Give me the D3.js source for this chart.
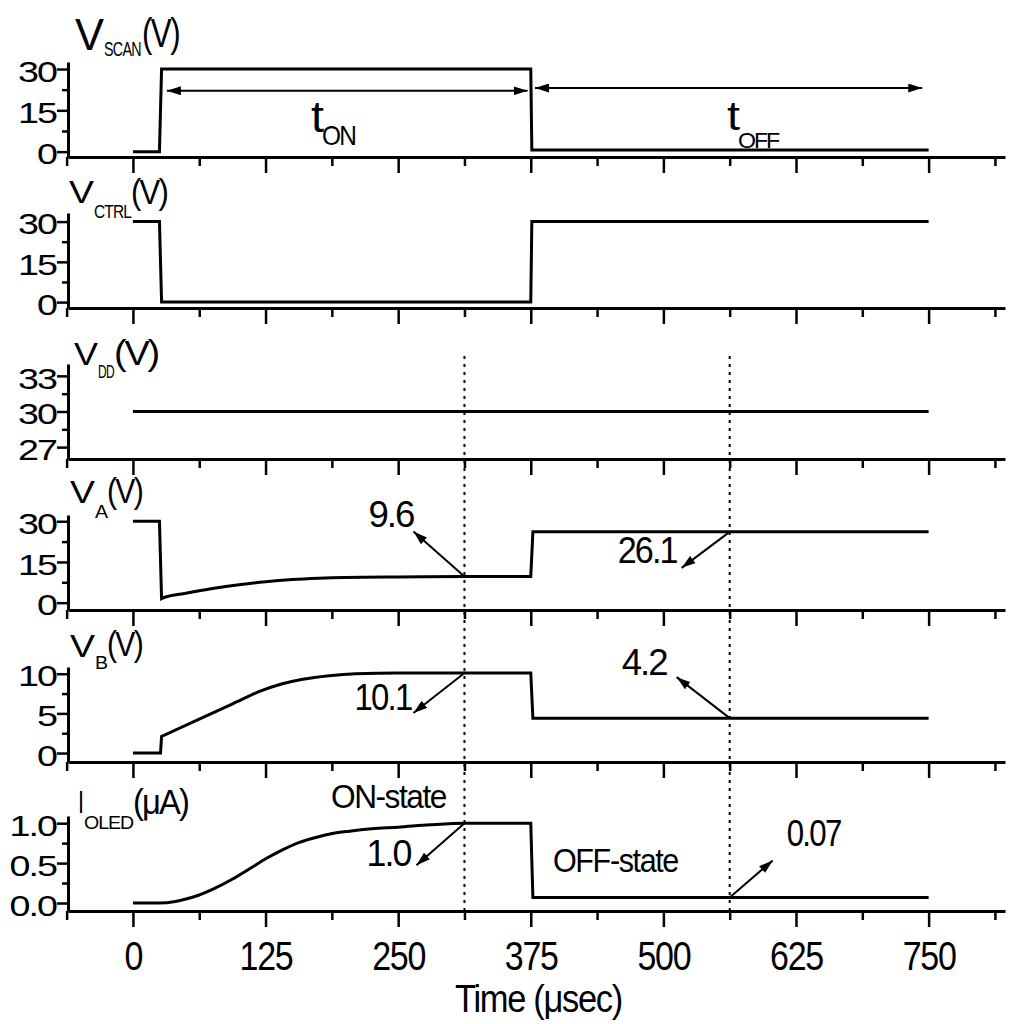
<!DOCTYPE html>
<html><head><meta charset="utf-8">
<script src="https://cdn.jsdelivr.net/npm/d3@7"></script>
<style>
body{margin:0;background:#fff}
svg text{font-family:"Liberation Sans",Arial,Helvetica,sans-serif;fill:#000}
</style>
</head><body>
<svg id="chart" width="1009" height="1024"></svg>
<script>
// ---------------- DATA ----------------
const timeTicks = [0, 125, 250, 375, 500, 625, 750];
const timeMinor = [-62.5, 62.5, 187.5, 312.5, 437.5, 562.5, 687.5, 812.5];
const timeLabels = ["0", "125", "250", "375", "500", "625", "750"];

const scanT = [0, 25, 27, 375, 376, 750];
const scanV = [0, 0, 30, 30, 0.6, 0.6];

const ctrlT = [0, 25, 27, 375, 376, 750];
const ctrlV = [30, 30, 0, 0, 30, 30];

const ddT = [0, 750];
const ddV = [30, 30];

const vaT = [0, 25, 27, 30, 50, 75, 100, 125, 150, 175, 200, 250, 312.5, 375, 377, 750];
const vaV = [30, 30, 1.5, 2.0, 3.5, 5.2, 6.6, 7.7, 8.5, 9.0, 9.3, 9.5, 9.6, 9.6, 26.1, 26.1];

const vbT = [0, 26, 27, 63, 94, 120, 140, 160, 185, 210, 250, 312.5, 375, 377, 750];
const vbV = [0, 0, 2.1, 4.3, 6.2, 7.8, 8.7, 9.3, 9.75, 10.0, 10.1, 10.1, 10.1, 4.4, 4.4];

const oledT = [0, 25, 40, 50, 62.5, 75, 94, 110, 126, 140, 157, 175, 188, 204, 225, 250, 280, 312.5, 375, 377, 750];
const oledV = [0, 0, 0.02, 0.05, 0.1, 0.17, 0.3, 0.43, 0.56, 0.66, 0.76, 0.83, 0.87, 0.9, 0.93, 0.95, 0.98, 1.0, 1.0, 0.07, 0.07];

const yMajor = [[0, 15, 30], [0, 15, 30], [27, 30, 33], [0, 15, 30], [0, 5, 10], [0, 0.5, 1.0]];
const yMinor = [[7.5, 22.5], [7.5, 22.5], [28.5, 31.5], [7.5, 22.5], [2.5, 7.5], [0.25, 0.75]];
const yLabels = [["0", "15", "30"], ["0", "15", "30"], ["27", "30", "33"], ["0", "15", "30"], ["0", "5", "10"], ["0.0", "0.5", "1.0"]];
const yDomains = [[-1.95, 32.55], [-2.2, 33.2], [26.0, 34.0], [-2.7, 32.3], [-1.13, 10.85], [-0.1, 1.09]];

const seriesT = [scanT, ctrlT, ddT, vaT, vbT, oledT];
const seriesV = [scanV, ctrlV, ddV, vaV, vbV, oledV];

const titleMain = ["V", "V", "V", "V", "V", "I"];
const titleSub = ["SCAN", "CTRL", "DD", "A", "B", "OLED"];
const titleUnit = ["(V)", "(V)", "(V)", "(V)", "(V)", "(\u03BCA)"];

const markerTimes = [312.5, 562.5];
const annPanel = [3, 3, 4, 4, 5, 5];
const annTime = [312.5, 562.5, 312.5, 562.5, 312.5, 562.5];
const annValue = [9.6, 26.1, 10.1, 4.4, 1.0, 0.07];
const annLabel = ["9.6", "26.1", "10.1", "4.2", "1.0", "0.07"];

// ---------------- LAYOUT / STYLE ----------------
const svg = d3.select("#chart");
const panelBottoms = [157, 308, 459, 610, 762, 911];
const panelH = 95;
const x = d3.scaleLinear().domain([-61.2, 822]).range([68, 1005]);
const FONT = '"Liberation Sans",Arial,Helvetica,sans-serif';

const defs = svg.append("defs");
defs.append("marker").attr("id", "ah")
  .attr("viewBox", "0 0 14 9").attr("refX", 14).attr("refY", 4.5)
  .attr("markerWidth", 14).attr("markerHeight", 9)
  .attr("markerUnits", "userSpaceOnUse").attr("orient", "auto-start-reverse")
  .append("path").attr("d", "M0,0L14,4.5L0,9Z").attr("fill", "#000");

function stretch(node, sx) {
  const t = d3.select(node);
  const x0 = +t.attr("x") || 0, y0 = +t.attr("y") || 0;
  t.attr("x", 0).attr("y", 0).attr("transform", `translate(${x0},${y0}) scale(${sx},1)`);
}
function fitText(t, len) {
  const L = t.node().getComputedTextLength();
  stretch(t.node(), len / L);
  return t;
}

// path: smooth runs joined by straight steps where samples are very close in time
function seriesPath(pts, xs, ys, smooth) {
  if (!smooth) return d3.line().x(d => xs(d[0])).y(d => ys(d[1]))(pts);
  const runs = [[pts[0]]];
  for (let k = 1; k < pts.length; k++) {
    if (pts[k][0] - pts[k - 1][0] < 3) runs.push([pts[k]]);
    else runs[runs.length - 1].push(pts[k]);
  }
  const ln = d3.line().x(d => xs(d[0])).y(d => ys(d[1])).curve(d3.curveMonotoneX);
  return runs.map((r, j) => {
    const s = r.length > 1 ? ln(r) : `M${xs(r[0][0])},${ys(r[0][1])}`;
    return j === 0 ? s : "L" + s.slice(1);
  }).join("");
}

const yScales = [];
panelBottoms.forEach((bot, i) => {
  const y = d3.scaleLinear().domain(yDomains[i]).range([bot, bot - panelH]);
  yScales.push(y);
  const g = svg.append("g");
  const last = i === panelBottoms.length - 1;

  const xa = g.append("g").attr("transform", `translate(0,${bot})`)
    .call(d3.axisBottom(x).tickValues(timeTicks).tickSize(16).tickSizeOuter(0).tickPadding(15)
      .tickFormat((d, j) => last ? timeLabels[j] : ""));
  g.append("g").attr("transform", `translate(0,${bot})`)
    .call(d3.axisBottom(x).tickValues(timeMinor).tickSize(9).tickSizeOuter(0).tickFormat(""))
    .select(".domain").remove();

  const ya = g.append("g").attr("transform", `translate(68,0)`)
    .call(d3.axisLeft(y).tickValues(yMajor[i]).tickSize(11).tickSizeOuter(0).tickPadding(1)
      .tickFormat((d, j) => yLabels[i][j]));
  g.append("g").attr("transform", `translate(68,0)`)
    .call(d3.axisLeft(y).tickValues(yMinor[i]).tickSize(6).tickSizeOuter(0).tickFormat(""))
    .select(".domain").remove();

  g.selectAll(".domain").attr("stroke", "#000").attr("stroke-width", 3);
  g.selectAll(".tick line").attr("stroke", "#000").attr("stroke-width", 2.5);

  ya.selectAll(".tick text").attr("font-size", 29).attr("font-family", FONT)
    .attr("dy", "0.42em").attr("letter-spacing", -1.5)
    .each(function () { stretch(this, 1.3); });
  if (last) {
    xa.selectAll(".tick text").attr("font-size", 40).attr("font-family", FONT)
      .attr("letter-spacing", -1.5)
      .each(function () { stretch(this, 0.85); });
  }

  const pts = seriesT[i].map((t, k) => [t, seriesV[i][k]]);
  g.append("path")
    .attr("d", seriesPath(pts, x, y, i >= 3))
    .attr("fill", "none").attr("stroke", "#000").attr("stroke-width", 3)
    .attr("stroke-linejoin", "miter");
});

// ---- titles ----
const tMainPos = [[75, 50, 44, 29], [69, 203, 32, 25], [74, 365, 32, 24], [70, 503, 32, 25], [70, 657, 32, 25], [78, 813, 32, 6]];
const tSubPos = [[104, 56, 21, 37], [94, 218, 18, 37], [98, 378, 18, 16], [95, 518, 18, 12], [95, 669, 18, 12], [84, 829, 18, 49]];
const tUnitPos = [[142, 47, 40, 37], [131, 204, 35, 36], [114, 365, 35, 44], [107, 503, 35, 35], [107, 656, 35, 35], [133, 814, 35, 55]];
titleMain.forEach((m, i) => {
  fitText(svg.append("text").attr("x", tMainPos[i][0]).attr("y", tMainPos[i][1]).attr("font-size", tMainPos[i][2]).text(m), tMainPos[i][3]);
  fitText(svg.append("text").attr("x", tSubPos[i][0]).attr("y", tSubPos[i][1]).attr("font-size", tSubPos[i][2]).attr("letter-spacing", -1).text(titleSub[i]), tSubPos[i][3]);
  fitText(svg.append("text").attr("x", tUnitPos[i][0]).attr("y", tUnitPos[i][1]).attr("font-size", tUnitPos[i][2]).attr("letter-spacing", -2).text(titleUnit[i]), tUnitPos[i][3]);
});

// ---- dotted markers ----
markerTimes.forEach(t => {
  svg.append("line").attr("x1", x(t)).attr("x2", x(t)).attr("y1", 356).attr("y2", 916)
    .attr("stroke", "#000").attr("stroke-width", 2).attr("stroke-dasharray", "3,5");
});

// ---- t_ON / t_OFF double arrows ----
const y0 = yScales[0];
svg.append("line").attr("x1", x(32)).attr("x2", x(372)).attr("y1", y0(22.1)).attr("y2", y0(22.1))
  .attr("stroke", "#000").attr("stroke-width", 2)
  .attr("marker-start", "url(#ah)").attr("marker-end", "url(#ah)");
svg.append("line").attr("x1", x(379)).attr("x2", x(744)).attr("y1", y0(23.1)).attr("y2", y0(23.1))
  .attr("stroke", "#000").attr("stroke-width", 2)
  .attr("marker-start", "url(#ah)").attr("marker-end", "url(#ah)");
fitText(svg.append("text").attr("x", 311).attr("y", 132).attr("font-size", 44).text("t"), 13);
fitText(svg.append("text").attr("x", 322).attr("y", 145).attr("font-size", 27).attr("letter-spacing", -2).text("ON"), 33);
fitText(svg.append("text").attr("x", 727).attr("y", 130).attr("font-size", 40).text("t"), 13);
fitText(svg.append("text").attr("x", 738).attr("y", 148).attr("font-size", 22).attr("letter-spacing", -2).text("OFF"), 40);

// ---- value annotations ----
const annTip = [[-51, -45], [-48, 36], [-51, 40], [-53, -41], [-48, 42], [43, -37]];
const annText = [[-51, -50, 45], [-53, 31, 59], [-53, 37, 57], [-63, -43, 45], [-54, 43, 44], [111, -51, 54]];
annPanel.forEach((p, k) => {
  const ax = x(annTime[k]), ay = yScales[p](annValue[k]);
  svg.append("line").attr("x1", ax).attr("y1", ay)
    .attr("x2", ax + annTip[k][0]).attr("y2", ay + annTip[k][1])
    .attr("stroke", "#000").attr("stroke-width", 2).attr("marker-end", "url(#ah)");
  fitText(svg.append("text").attr("x", ax + annText[k][0]).attr("y", ay + annText[k][1])
    .attr("text-anchor", "end").attr("font-size", 37).attr("letter-spacing", -2).text(annLabel[k]), annText[k][2]);
});
fitText(svg.append("text").attr("x", 331).attr("y", 808).attr("font-size", 33).attr("letter-spacing", -1.5).text("ON-state"), 115);
fitText(svg.append("text").attr("x", 553).attr("y", 872).attr("font-size", 33).attr("letter-spacing", -1.5).text("OFF-state"), 125);

// ---- x axis title ----
fitText(svg.append("text").attr("x", 455).attr("y", 1012).attr("font-size", 39).attr("letter-spacing", -1.5).text("Time (\u03BCsec)"), 167);
</script>
</body></html>
